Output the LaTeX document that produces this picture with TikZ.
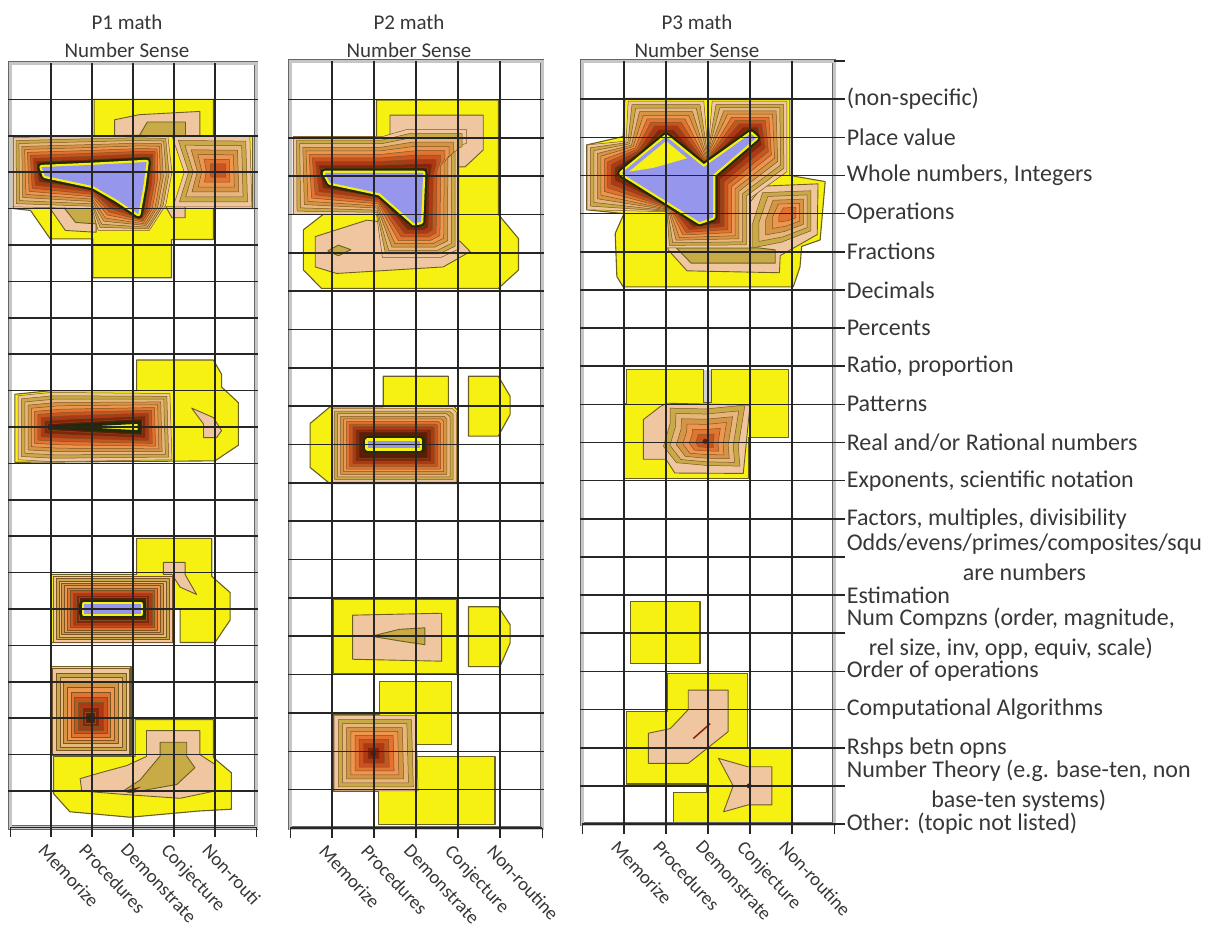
\documentclass[tikz,border=0pt]{standalone}
\usepackage{fontspec}
\setmainfont{Carlito}
\definecolor{yel}{RGB}{247,241,18}
\definecolor{edgeol}{RGB}{105,95,35}
\definecolor{ringedge}{RGB}{125,85,35}
\definecolor{ring0}{RGB}{240,198,160}
\definecolor{ring1}{RGB}{200,170,70}
\definecolor{ring2}{RGB}{230,182,125}
\definecolor{ring3}{RGB}{212,150,68}
\definecolor{ring4}{RGB}{238,150,80}
\definecolor{ring5}{RGB}{226,115,48}
\definecolor{ring6}{RGB}{202,84,32}
\definecolor{ring7}{RGB}{172,56,20}
\definecolor{ring8}{RGB}{134,36,10}
\definecolor{ring9}{RGB}{92,28,6}
\definecolor{coredark}{RGB}{34,42,4}
\definecolor{coreblue}{RGB}{150,150,236}
\definecolor{inkgray}{RGB}{55,55,55}

\tikzset{
	yelreg/.style={fill=yel, draw=edgeol, line width=1.1pt, line join=round},
	peachreg/.style={fill=ring0, draw=edgeol, line width=0.9pt, line join=round},
	khakireg/.style={fill=ring1, draw=edgeol, line width=0.9pt, line join=round},
	ringstep/.style={draw=ringedge, line width=0.5pt, line join=round},
	coreline/.style={draw=coredark, line width=9pt, line join=round},
	coreyel/.style={draw=yel, line width=4.5pt, line join=round},
	gridline/.style={draw=black!85, line width=1.6pt},
	panelframe/.style={draw=black!60, line width=0.6pt, double=gray!45, double distance=3pt},
	topic/.style={font=\fontsize{24}{30}\selectfont, text=inkgray, anchor=west, align=center, inner sep=0pt},
	axislabel/.style={font=\fontsize{19}{23}\selectfont, text=inkgray, rotate=-47, anchor=north west, inner sep=0pt},
	paneltitle/.style={font=\fontsize{21}{28}\selectfont, text=inkgray, align=center, inner sep=0pt}
}

\newcommand{\rings}[3]{%
	\foreach \k in {1,...,#2}{%
		\pgfmathsetmacro{\ringt}{(\k-1)/#2}%
		\pgfmathtruncatemacro{\ringc}{#1+\k-1}%
		\foreach \ox/\oy/\ix/\iy [count=\vi] in {#3}{%
			\pgfmathsetmacro{\rx}{\ox+\ringt*(\ix-\ox)}%
			\pgfmathsetmacro{\ry}{\oy+\ringt*(\iy-\oy)}%
			\ifnum\vi=1 \xdef\ringpath{(\rx,\ry)}\else\xdef\ringpath{\ringpath -- (\rx,\ry)}\fi
		}%
		\filldraw[ringstep, fill=ring\ringc] \ringpath -- cycle;
	}%
}
\newcommand{\core}[1]{\draw[coreline] #1; \draw[coreyel] #1; \fill[coreblue] #1;}
\newcommand{\panelgrid}[1]{%
	\pgfmathtruncatemacro{\lastrow}{#1-1}%
	\draw[panelframe] (0,0) rectangle (6,#1);
	\foreach \r in {1,...,\lastrow} \draw[gridline] (-0.04,\r) -- (6.04,\r);
	\draw[gridline] (0,#1) -- (6,#1);
	\foreach \c in {1,...,5} \draw[gridline] (\c,0) -- (\c,{#1+0.25});
	\foreach \c in {0,6} \draw[gridline, line width=1pt] (\c,#1) -- (\c,{#1+0.25});
}

\begin{document}
\begin{tikzpicture}[x=1pt, y=-1pt]
	\useasboundingbox (0,0) rectangle (1227,932);
	\node[paneltitle] (tit1) at (127,36) {P1 math\\Number Sense};
	\node[paneltitle] (tit2) at (409,36) {P2 math\\Number Sense};
	\node[paneltitle] (tit3) at (697,36) {P3 math\\Number Sense};

	\begin{scope}[shift={(10pt,-63pt)}, x=41pt, y=-36.4pt]
		\filldraw[yelreg] (2.05,1) -- (4.96,1) -- (4.96,2) -- (5.92,2) -- (5.92,4) -- (4.96,4) -- (4.96,4.85) -- (3.94,4.85) -- (3.94,5.9) -- (2.02,5.9) -- (2.02,4.83) -- (0.98,4.83) -- (0.5,4.05) -- (0.08,4) -- (0.08,2) -- (2.05,2) -- cycle;
		\filldraw[peachreg] (2.55,2.0) -- (2.55,1.56) -- (3.15,1.42) -- (4.63,1.33) -- (4.63,2.0) -- cycle;
		\filldraw[khakireg] (3.15,2.0) -- (3.35,1.62) -- (4.28,1.62) -- (4.28,2.0) -- cycle;
		\filldraw[peachreg] (0.95,3.95) -- (1.35,4.6) -- (2.1,4.65) -- (2.1,3.95) -- cycle;
		\filldraw[khakireg] (1.3,3.95) -- (1.6,4.38) -- (2.1,4.42) -- (2.1,3.95) -- cycle;
		\filldraw[peachreg] (3.8,3.95) -- (3.95,4.25) -- (4.27,4.25) -- (4.27,3.95) -- cycle;
		\rings{0}{10}{0.08/2.05/0.77/2.86, 2.0/2.0/2.0/2.8, 3.05/1.98/3.33/2.72, 3.85/2.0/3.33/2.72, 3.95/3.0/3.25/3.4, 3.8/3.9/3.13/4.15, 3.4/4.6/3.13/4.15, 2.15/4.6/2.6/3.75, 2.0/4.0/2.03/3.35, 0.08/3.95/0.85/3.1}
		\rings{0}{7}{3.95/2.0/5.05/2.9, 5.85/2.02/5.15/2.9, 5.9/3.95/5.15/3.0, 3.98/3.95/5.05/3.0, 4.25/3.0/5.0/2.95}
		\core{(0.77,2.86) -- (2.0,2.8) -- (3.33,2.72) -- (3.25,3.4) -- (3.13,4.15) -- (2.6,3.75) -- (2.03,3.38) -- (0.85,3.1) -- cycle}

		\filldraw[yelreg] (3.09,8.16) -- (4.96,8.16) -- (5.16,8.55) -- (5.16,8.9) -- (5.57,9.33) -- (5.57,10.5) -- (5.0,10.93) -- (0.12,10.97) -- (0.12,9.1) -- (1.0,9.0) -- (3.09,9.0) -- cycle;
		\filldraw[peachreg] (4.43,9.48) -- (4.96,9.74) -- (5.16,10.1) -- (5.04,10.29) -- (4.72,10.29) -- (4.72,9.92) -- cycle;
		\rings{0}{10}{0.2/9.14/1.0/10.0, 1.0/9.05/1.5/9.97, 3.9/9.08/3.15/9.85, 3.95/10.9/3.15/10.15, 1.0/10.95/1.5/10.03, 0.2/10.9/1.0/10.0}
		\filldraw[draw=coredark, fill=yel, line width=3pt, line join=round] (1.0,10.0) -- (3.15,9.87) -- (3.15,10.13) -- cycle;
		\fill[coreblue] (2.9,9.96) rectangle (3.1,10.04);

		\filldraw[yelreg] (3.09,13.06) -- (4.92,13.06) -- (4.92,14.1) -- (5.37,14.55) -- (5.37,15.3) -- (5.0,15.92) -- (4.15,15.92) -- (4.15,15.0) -- (3.98,15.0) -- (3.98,15.92) -- (1.0,15.92) -- (1.0,14.05) -- (3.09,14.05) -- cycle;
		\filldraw[peachreg] (3.74,13.72) -- (4.27,13.72) -- (4.27,14.05) -- (4.55,14.6) -- (4.15,14.4) -- (3.95,14.05) -- (3.74,14.05) -- cycle;
		\rings{0}{10}{1.05/14.1/1.75/14.75, 3.95/14.1/3.25/14.75, 3.95/15.9/3.25/15.25, 1.05/15.9/1.75/15.25}
		\core{(1.8,14.87) -- (3.2,14.87) -- (3.2,15.13) -- (1.8,15.13) -- cycle}

		\filldraw[yelreg] (3.05,18.04) -- (4.96,18.04) -- (4.96,19.08) -- (5.4,19.5) -- (5.4,20.5) -- (4.6,20.55) -- (2.93,20.72) -- (1.46,20.57) -- (1.06,20.07) -- (1.06,19.05) -- (3.05,19.05) -- cycle;
		\filldraw[peachreg] (3.33,18.34) -- (4.63,18.34) -- (4.63,19.0) -- (5.0,19.27) -- (5.0,20.0) -- (4.15,20.2) -- (2.85,20.1) -- (1.75,20.0) -- (1.71,19.66) -- (2.2,19.5) -- (2.85,19.3) -- (3.33,19.05) -- cycle;
		\filldraw[khakireg] (3.66,18.66) -- (4.31,18.66) -- (4.31,19.04) -- (4.51,19.36) -- (4.07,19.82) -- (2.93,20.05) -- (2.76,20.0) -- (3.17,19.7) -- (3.66,19.04) -- cycle;
		\fill[ring8] (2.76,20.0) -- (3.2,19.88) -- (2.95,20.04) -- cycle;
		\filldraw[yelreg] (1.0,16.58) rectangle (2.95,19.02);
		\rings{0}{10}{1.04/16.62/1.93/17.96, 2.92/16.62/1.99/17.96, 2.92/18.98/1.99/18.04, 1.04/18.98/1.93/18.04}
		\fill[coredark] (1.96,18) circle (3pt);
		\fill[yel] (1.96,18) circle (1pt);

		\panelgrid{21}
		\foreach \c/\lab in {1/Memorize, 2/Procedures, 3/Demonstrate, 4/Conjecture, 5/Non-routi}
			\node[axislabel] (pa\c) at ({\c-0.1},21.4) {\lab};
	\end{scope}

	\begin{scope}[shift={(290pt,-61pt)}, x=42pt, y=-38.35pt]
		\filldraw[yelreg] (2.06,1.02) -- (4.96,1.02) -- (4.96,4.0) -- (5.44,4.63) -- (5.44,5.45) -- (4.96,5.93) -- (0.75,5.93) -- (0.32,5.45) -- (0.32,4.4) -- (0.79,4.0) -- (0.08,4.0) -- (0.08,1.97) -- (2.06,1.97) -- cycle;
		\filldraw[peachreg] (2.38,2.0) -- (2.38,1.41) -- (4.6,1.41) -- (4.6,2.32) -- (4.17,2.76) -- (4.0,2.76) -- (4.0,2.0) -- cycle;
		\filldraw[peachreg] (0.6,4.58) -- (1.83,4.15) -- (2.2,4.2) -- (4.05,4.7) -- (4.29,4.97) -- (3.65,5.37) -- (1.11,5.54) -- (0.6,5.37) -- cycle;
		\filldraw[khakireg] (0.9,4.95) -- (1.15,4.8) -- (1.45,4.92) -- (1.15,5.08) -- cycle;
		\rings{0}{10}{0.08/1.97/0.83/2.9, 2.2/1.97/2.1/2.9, 2.8/1.78/3.17/2.9, 4.2/1.78/3.17/2.9, 4.2/2.15/3.17/2.95, 4.02/2.2/3.15/3.3, 4.02/4.9/3.12/4.2, 3.6/5.12/3.1/4.23, 2.2/5.12/2.95/4.23, 2.06/4.0/2.14/3.45, 0.08/4.0/0.95/3.15}
		\core{(0.83,2.92) -- (3.17,2.92) -- (3.12,4.2) -- (2.95,4.23) -- (2.14,3.45) -- (0.95,3.17) -- cycle}

		\filldraw[yelreg] (2.22,8.22) -- (3.77,8.22) -- (3.77,9.0) -- (3.9,9.0) -- (4.0,9.12) -- (4.0,11.02) -- (0.95,11.02) -- (0.48,10.6) -- (0.48,9.45) -- (0.95,9.02) -- (2.22,9.02) -- cycle;
		\filldraw[yelreg] (4.25,8.22) -- (4.96,8.22) -- (5.24,8.74) -- (5.24,9.22) -- (4.96,9.78) -- (4.25,9.78) -- cycle;
		\rings{0}{10}{0.99/9.06/1.71/9.74, 3.86/9.06/3.21/9.74, 3.96/9.16/3.21/9.74, 3.96/10.98/3.21/10.3, 0.99/10.98/1.71/10.3}
		\core{(1.85,9.9) -- (3.1,9.9) -- (3.1,10.1) -- (1.85,10.1) -- cycle}

		\filldraw[yelreg] (1.03,14.04) rectangle (3.97,15.96);
		\filldraw[yelreg] (4.25,14.23) -- (4.96,14.23) -- (5.24,14.7) -- (5.24,15.18) -- (5.0,15.79) -- (4.25,15.79) -- cycle;
		\filldraw[peachreg] (1.49,14.45) -- (3.61,14.4) -- (3.61,15.65) -- (1.49,15.6) -- cycle;
		\filldraw[khakireg] (1.94,15.0) -- (2.6,14.82) -- (3.21,14.78) -- (3.21,15.22) -- (2.6,15.12) -- cycle;

		\filldraw[yelreg] (2.14,16.18) -- (3.85,16.18) -- (3.85,17.83) -- (3.02,17.83) -- (3.02,18.14) -- (4.88,18.14) -- (4.88,19.92) -- (2.1,19.92) -- (2.1,19.05) -- (1.03,19.05) -- (1.03,17.05) -- (2.14,17.05) -- cycle;
		\rings{0}{9}{1.05/17.07/1.95/18.0, 3.0/17.07/2.02/18.0, 3.05/19.03/2.02/18.1, 1.05/19.03/1.95/18.1}
		\fill[ring9] (1.98,18.05) circle (3pt);

		\panelgrid{20}
		\foreach \c/\lab in {1/Memorize, 2/Procedures, 3/Demonstrate, 4/Conjecture, 5/Non-routine}
			\node[axislabel] (pb\c) at ({\c-0.1},20.4) {\lab};
	\end{scope}

	\begin{scope}[shift={(582pt,-61pt)}, x=42pt, y=-38.15pt]
		\filldraw[yelreg] (1.02,0.98) -- (4.95,0.98) -- (4.95,3.0) -- (5.79,3.16) -- (5.67,4.69) -- (5.23,4.86) -- (5.19,5.4) -- (5.03,5.92) -- (0.98,5.92) -- (0.83,5.65) -- (0.79,4.52) -- (1.0,4.0) -- (0.11,3.9) -- (0.11,2.2) -- (0.98,1.98) -- cycle;
		\filldraw[peachreg] (2.0,4.5) -- (2.05,4.95) -- (2.5,5.5) -- (4.7,5.55) -- (4.72,5.1) -- (5.6,4.55) -- (5.62,3.22) -- (4.3,3.28) -- (4.0,3.7) -- (4.0,4.5) -- cycle;
		\filldraw[khakireg] (2.25,4.9) -- (2.6,5.3) -- (4.6,5.3) -- (4.6,4.95) -- (4.2,4.9) -- cycle;
		\rings{1}{5}{4.3/3.45/4.92/3.95, 5.45/3.4/5.0/3.95, 5.45/4.45/5.0/4.03, 4.75/4.75/4.92/4.05, 4.05/4.9/4.85/4.05, 4.05/4.3/4.85/4.0}
		\rings{0}{10}{0.12/2.2/0.94/2.94, 1.05/2.1/1.47/2.46, 1.1/1.05/2.0/1.98, 2.9/1.05/2.0/1.98, 3.0/2.4/2.9/2.78, 3.1/1.05/4.02/1.9, 4.88/1.05/4.02/1.9, 4.88/2.9/4.14/2.02, 4.0/3.6/3.12/2.98, 4.0/4.9/3.12/4.1, 2.0/4.9/2.8/4.22, 2.0/3.95/2.2/3.81, 0.12/3.9/0.94/2.94}
		\core{(0.94,2.94) -- (2.0,1.98) -- (2.9,2.78) -- (4.02,1.9) -- (4.14,2.02) -- (3.12,2.98) -- (3.12,4.1) -- (2.8,4.22) -- cycle}
		\fill[yel] (1.12,2.9) -- (2.0,2.1) -- (2.5,2.55) -- (1.7,2.8) -- cycle;

		\filldraw[yelreg] (1.06,8.08) -- (2.89,8.08) -- (2.89,8.95) -- (3.09,8.95) -- (3.09,8.08) -- (4.91,8.08) -- (4.91,9.88) -- (3.96,9.88) -- (3.96,10.95) -- (1.02,10.95) -- (1.02,8.97) -- (1.06,8.97) -- cycle;
		\fill[gray!35] (2.91,8.1) rectangle (3.07,8.93);
		\filldraw[peachreg] (2.02,8.97) -- (4.0,9.02) -- (3.84,10.81) -- (2.21,10.8) -- (2.0,10.44) -- (1.46,10.44) -- (1.46,9.4) -- (1.86,9.06) -- cycle;
		\rings{1}{6}{2.1/9.1/2.9/9.93, 2.95/9.12/2.95/9.93, 3.88/9.02/3.0/9.93, 3.72/10.1/3.0/10.0, 3.76/10.62/3.0/10.03, 2.95/10.6/2.93/10.03, 2.25/10.53/2.88/10.03, 1.94/10.1/2.86/9.97, 2.1/9.49/2.88/9.95}
		\fill[ring9] (2.93,9.97) circle (2.5pt);

		\filldraw[yelreg] (1.16,14.17) rectangle (2.81,15.79);

		\filldraw[yelreg] (2.03,16.05) -- (3.94,16.05) -- (3.94,18.0) -- (4.98,18.0) -- (4.98,19.96) -- (2.17,19.96) -- (2.17,19.18) -- (2.97,19.18) -- (2.97,18.95) -- (1.06,18.95) -- (1.06,17.06) -- (2.03,17.06) -- cycle;
		\filldraw[peachreg] (2.53,16.49) -- (3.48,16.49) -- (3.48,17.58) -- (2.53,18.41) -- (1.58,18.41) -- (1.58,17.62) -- (2.1,17.5) -- (2.53,17.0) -- cycle;
		\draw[ring8, line width=1.5pt] (2.65,17.76) -- (3.05,17.37);
		\filldraw[peachreg] (3.25,18.28) -- (3.95,18.5) -- (4.52,18.5) -- (4.52,19.5) -- (3.95,19.5) -- (3.37,19.68) -- (3.6,19.0) -- cycle;
		\fill[ring9] (3.98,19.0) circle (2.5pt);

		\panelgrid{20}
		\foreach \r in {0,...,20} \draw[gridline] (6,\r) -- (6.26,\r);
		\foreach \c/\lab in {1/Memorize, 2/Procedures, 3/Demonstrate, 4/Conjecture, 5/Non-routine}
			\node[axislabel] (pc\c) at ({\c-0.1},20.4) {\lab};
		\foreach \r/\txt in {1/{(non-specific)}, 2/{Place value}, 3/{Whole numbers, Integers}, 4/{Operations}, 5/{Fractions}, 6/{Decimals}, 7/{Percents}, 8/{Ratio, proportion}, 9/{Patterns}, 10/{Real and/or Rational numbers}, 11/{Exponents, scientific notation}, 12/{Factors, multiples, divisibility}, 13/{Odds/evens/primes/composites/squ\\are numbers}, 14/{Estimation}, 15/{Num Compzns (order, magnitude,\\rel size, inv, opp, equiv, scale)}, 16/{Order of operations}, 17/{Computational Algorithms}, 18/{Rshps betn opns}, 19/{Number Theory (e.g. base-ten, non\\base-ten systems)}, 20/{Other: (topic not listed)}}
			\node[topic] (topic\r) at (6.3,\r) {\txt};
	\end{scope}
\end{tikzpicture}
\end{document}
